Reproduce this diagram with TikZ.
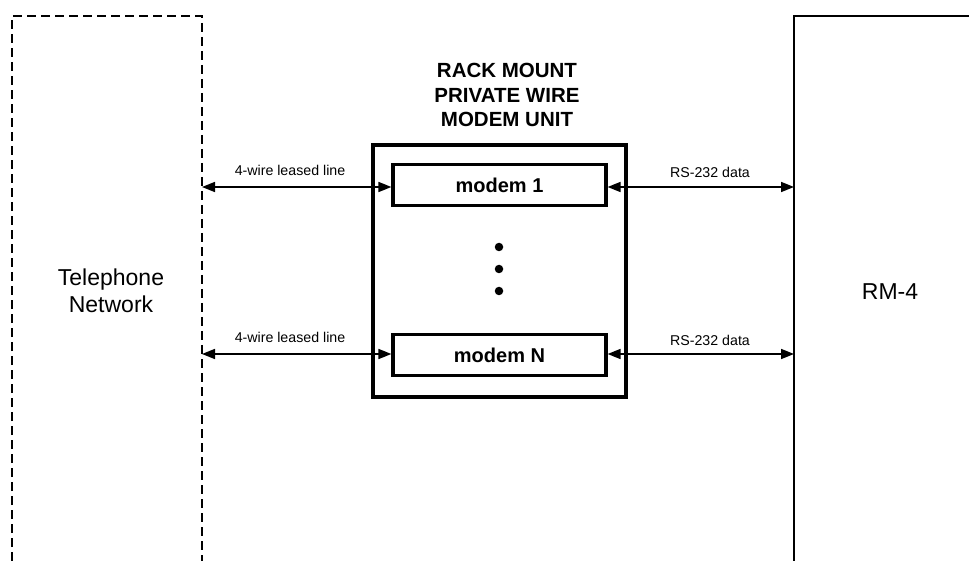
\documentclass[tikz,border=0pt]{standalone}
\usepackage{fontspec}
\setmainfont{Liberation Sans}
\usetikzlibrary{arrows.meta}
\begin{document}
\begin{tikzpicture}[x=1pt,y=-1pt,
  outerbox/.style={draw,line width=3.8pt},
  modembox/.style={draw,line width=3.2pt,minimum width=213pt,minimum height=41pt,inner sep=0pt,font=\fontsize{20}{24}\selectfont\bfseries},
  link/.style={line width=1.7pt,{Triangle[length=13pt,width=10pt]}-{Triangle[length=13pt,width=10pt]}},
  lbl/.style={font=\fontsize{14.2}{16}\selectfont,inner sep=0pt},
  big/.style={font=\fontsize{23}{27}\selectfont,align=center,inner sep=0pt},
  dot/.style={circle,fill,inner sep=0pt,minimum size=8.5pt}]
\useasboundingbox (0,0) rectangle (969,561);
% Telephone network (dashed, open at bottom)
\draw[line width=2.4pt,dash pattern=on 9pt off 5pt] (12,561) -- (12,16) -- (202,16) -- (202,561);
\node[big] (tel) at (111,291) {Telephone\\Network};
% RM-4
\draw[line width=2.4pt] (794,561) -- (794,16) -- (975,16);
\node[big] (rm) at (890,292) {RM-4};
% title
\node[font=\fontsize{20.5}{24.5}\selectfont\bfseries,align=center,inner sep=0pt] (title) at (507,95) {RACK MOUNT\\PRIVATE WIRE\\MODEM UNIT};
% outer box
\draw[outerbox] (373,145) rectangle (626,397);
\node[modembox] (m1) at (499.5,185) {modem 1};
\node[modembox] (mn) at (499.5,355) {modem N};
\node[dot] (d1) at (499,247) {};
\node[dot] (d2) at (499,269) {};
\node[dot] (d3) at (499,291) {};
% connectors
\coordinate (tl1) at (202,187);
\coordinate (tln) at (202,354);
\coordinate (rl1) at (794,187);
\coordinate (rln) at (794,354);
\draw[link] (tl1) -- (m1.west |- tl1);
\draw[link] (tln) -- (mn.west |- tln);
\draw[link] (m1.east |- rl1) -- (rl1);
\draw[link] (mn.east |- rln) -- (rln);
\node[lbl] (l1) at (290,170) {4-wire leased line};
\node[lbl] (l2) at (290,337) {4-wire leased line};
\node[lbl] (r1) at (710,172) {RS-232 data};
\node[lbl] (r2) at (710,340) {RS-232 data};
\end{tikzpicture}
\end{document}
